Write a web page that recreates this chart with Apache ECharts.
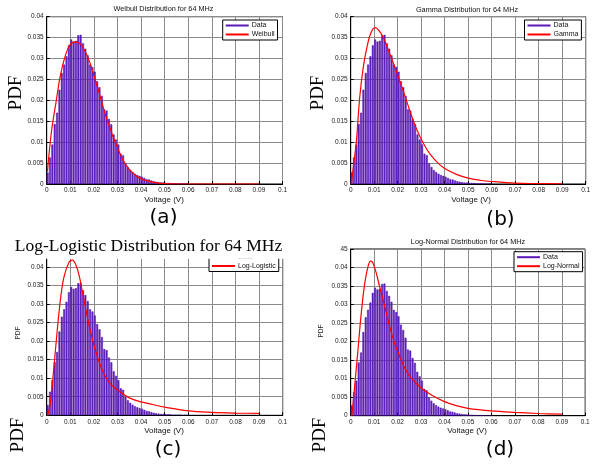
<!DOCTYPE html>
<html>
<head>
<meta charset="utf-8">
<script src="https://cdn.jsdelivr.net/npm/echarts@6.0.0/dist/echarts.min.js"></script>
<style>
html,body{margin:0;padding:0;background:#fff;}
#chart{width:600px;height:467px;}
</style>
</head>
<body>
<div id="chart"></div>
<script>
// ---------- data ----------
const binWidth = 0.001;
const histValues = [
  0.0027, 0.0063, 0.0094, 0.0143, 0.0170, 0.0225, 0.0265, 0.0285, 0.0305, 0.0331,
  0.0345, 0.0340, 0.0342, 0.0355, 0.0356, 0.0336, 0.0323, 0.0307, 0.0285, 0.0279,
  0.0268, 0.0245, 0.0231, 0.0210, 0.0178, 0.0175, 0.0155, 0.0142, 0.0118, 0.0106,
  0.0094, 0.0072, 0.0068, 0.0049, 0.0040, 0.0033, 0.0028, 0.0024, 0.0021, 0.0019,
  0.0017, 0.0014, 0.0011, 0.0010, 0.0008, 0.0006, 0.0005, 0.0004, 0.0003, 0.0003,
  0.0002, 0.0002, 0.0002, 0.0001, 0.0001, 0.0001, 0.0001, 0.00005, 0.00005, 0.00005
];

const weibullX = [0.0003, 0.0021, 0.0040, 0.0057, 0.0078, 0.0099, 0.0121, 0.0142, 0.0163, 0.0184,
  0.0206, 0.0227, 0.0248, 0.0270, 0.0291, 0.0312, 0.0333, 0.0355, 0.0383, 0.0411, 0.0454, 0.05, 0.06, 0.07, 0.08, 0.09];
const weibullY = [0.0030, 0.0129, 0.0197, 0.0257, 0.0305, 0.0333, 0.0340, 0.0335, 0.0317, 0.0289,
  0.0249, 0.0209, 0.0167, 0.0131, 0.0099, 0.0071, 0.0048, 0.0032, 0.0018, 0.0010, 0.0004, 0.0001, 0, 0, 0, 0];

const gammaX = [0.0003, 0.0010, 0.0024, 0.0038, 0.0053, 0.0068, 0.0085, 0.0104, 0.0119, 0.0141,
  0.0163, 0.0185, 0.0207, 0.0230, 0.0251, 0.0274, 0.0296, 0.0325, 0.035, 0.0375, 0.04, 0.045, 0.05, 0.055, 0.06, 0.07, 0.08, 0.09];
const gammaY = [0, 0.0035, 0.0101, 0.0205, 0.0277, 0.0324, 0.0360, 0.0374, 0.0368, 0.0348,
  0.0316, 0.0284, 0.0249, 0.0212, 0.0176, 0.0140, 0.0112, 0.0082, 0.0063, 0.0048, 0.0037, 0.0023, 0.0014, 0.0009, 0.0006, 0.0002, 0.0001, 0.00003];

const logLogisticX = [0.0004, 0.0015, 0.0031, 0.0045, 0.0060, 0.0074, 0.0095, 0.0109, 0.0123, 0.0138,
  0.0152, 0.0166, 0.0180, 0.0201, 0.0223, 0.0244, 0.0272, 0.03, 0.035, 0.04, 0.045, 0.05, 0.06, 0.07, 0.08, 0.09];
const logLogisticY = [0, 0.0030, 0.0133, 0.0231, 0.0321, 0.0375, 0.0413, 0.0418, 0.0406, 0.0375,
  0.0330, 0.0285, 0.0240, 0.0187, 0.0142, 0.0110, 0.0083, 0.0068, 0.0047, 0.0036, 0.0029, 0.0022, 0.0012, 0.0008, 0.0006, 0.0005];

const logNormalX = [0.0005, 0.0017, 0.0031, 0.0045, 0.0060, 0.0074, 0.0085, 0.0095, 0.0109, 0.0123,
  0.0138, 0.0152, 0.0166, 0.0187, 0.0209, 0.0230, 0.0258, 0.03, 0.035, 0.04, 0.045, 0.05, 0.06, 0.07, 0.08, 0.09];
const logNormalY = [0, 0.0080, 0.0178, 0.0277, 0.0358, 0.0403, 0.0417, 0.0412, 0.0385, 0.0349,
  0.0313, 0.0277, 0.0241, 0.0196, 0.0160, 0.0129, 0.0102, 0.0075, 0.0054, 0.0038, 0.0027, 0.0020, 0.0013, 0.0009, 0.0006, 0.0004];

const fitNames = ['Weibull', 'Gamma', 'Log-Logistic', 'Log-Normal'];
const panelTitles = ['Weibull Distribution for 64 MHz', 'Gamma Distribution for 64 MHz',
  'Log-Logistic Distribution for 64 MHz', 'Log-Normal Distribution for 64 MHz'];
const captions = ['(a)', '(b)', '(c)', '(d)'];
const xLabel = 'Voltage (V)';
const yLabel = 'PDF';
const yMaxes = [0.04, 0.04, 0.045, 0.045];

// ---------- layout ----------
const grids = [
  {left: 46.7, top: 16.7, width: 235.8, height: 167.3},
  {left: 350.7, top: 16.7, width: 235, height: 167.3},
  {left: 46.7, top: 248.2, width: 236, height: 167.1},
  {left: 350.7, top: 249, width: 234.5, height: 166.7}
];
const fitX = [weibullX, gammaX, logLogisticX, logNormalX];
const fitY = [weibullY, gammaY, logLogisticY, logNormalY];

const histData = histValues.map((v, i) => [i * binWidth, v]);
const BAR_FILL = '#6526c9';
const BAR_EDGE = '#48079f';

function renderBar(params, api) {
  const x0 = api.value(0), v = api.value(1);
  const p0 = api.coord([x0, 0]);
  const p1 = api.coord([x0 + binWidth, v]);
  const w = p1[0] - p0[0];
  return {
    type: 'rect',
    shape: {x: p0[0] + 0.2, y: p1[1], width: Math.max(w - 0.9, 0.5), height: p0[1] - p1[1]},
    style: {fill: BAR_FILL, stroke: BAR_EDGE, lineWidth: 0.45}
  };
}

const tickFont = {fontFamily: 'Liberation Sans', fontSize: 6.5, color: '#1a1a1a'};
const fmt = v => String(+v.toFixed(3));

const xAxes = grids.map((g, i) => ({
  type: 'value', gridIndex: i, min: 0, max: 0.1, interval: 0.01,
  axisLine: {show: true, onZero: false, lineStyle: {color: '#000', width: 1}},
  axisTick: {show: true, inside: true, length: 3, lineStyle: {color: '#000'}},
  splitLine: {show: true, lineStyle: {color: '#8a8a8a', width: 1}},
  axisLabel: Object.assign({margin: 3, formatter: fmt, hideOverlap: false, showMinLabel: true, showMaxLabel: true}, tickFont)
}));
const yAxes = grids.map((g, i) => ({
  type: 'value', gridIndex: i, min: 0, max: yMaxes[i], interval: 0.005,
  axisLine: {show: true, onZero: false, lineStyle: {color: '#000', width: 1}},
  axisTick: {show: true, inside: true, length: 3, lineStyle: {color: '#000'}},
  splitLine: {show: true, lineStyle: {color: '#8a8a8a', width: 1}},
  axisLabel: Object.assign({margin: 3, showMinLabel: true, showMaxLabel: true,
    formatter: v => (i === 3 && Math.abs(v - 0.045) < 1e-9) ? '45' : fmt(v)}, tickFont)
}));

const series = [];
grids.forEach((g, i) => {
  series.push({
    type: 'custom', name: 'Data', xAxisIndex: i, yAxisIndex: i,
    renderItem: renderBar, data: histData, clip: true,
    itemStyle: {color: '#5a18b8'}, silent: true, z: 2
  });
  series.push({
    type: 'line', name: fitNames[i], xAxisIndex: i, yAxisIndex: i,
    data: fitX[i].map((x, k) => [x, fitY[i][k]]),
    showSymbol: false, symbol: 'none', smooth: 0.35,
    lineStyle: {color: '#ff0000', width: 1.2}, itemStyle: {color: '#ff0000'}, z: 3, silent: true
  });
});

const legendPos = [
  {left: 222.7, top: 20},
  {left: 524.5, top: 20},
  {left: 209, top: 251.5},
  {left: 514, top: 251.7}
];
const legends = legendPos.map((p, i) => ({
  left: p.left, top: p.top, orient: 'vertical',
  backgroundColor: '#fff', borderColor: '#000', borderWidth: 1,
  padding: [2, 3, 2, 3], itemGap: 2, itemWidth: 23, itemHeight: 2,
  textStyle: {fontFamily: 'Liberation Sans', fontSize: 7, color: '#111', padding: [0, 0, 0, -2]},
  selectedMode: false,
  data: [
    {name: 'Data', icon: 'rect', itemStyle: {color: '#5a18b8'}},
    {name: fitNames[i], icon: 'rect', itemStyle: {color: '#ff0000'}}
  ]
}));

const serif = 'Liberation Serif';
const sans = 'Liberation Sans';
const capFont = 'DejaVu Sans';
function txt(text, x, y, font, fill, z) {
  return {type: 'text', style: {text: text, x: x, y: y, align: 'center', verticalAlign: 'middle', font: font, fill: fill}, z: z || 10};
}
function vtxt(text, x, y, font, fill) {
  return {type: 'text', x: x, y: y, rotation: Math.PI / 2, style: {text: text, x: 0, y: 0, align: 'center', verticalAlign: 'middle', font: font, fill: fill}, z: 10};
}
const graphic = [
  txt(panelTitles[0], 163.5, 9, '7.3px ' + sans, '#111'),
  txt(panelTitles[1], 467, 9.5, '7.3px ' + sans, '#111'),
  txt(panelTitles[3], 468, 241.5, '7.3px ' + sans, '#111'),
  {type: 'rect', shape: {x: 0, y: 233, width: 300, height: 25.7}, style: {fill: '#fff'}, z: 100},
  txt(panelTitles[2], 148.5, 246.5, '17.5px ' + serif, '#000', 101),
  txt(xLabel, 164, 200, '8px ' + sans, '#111'),
  txt(xLabel, 471, 200, '8px ' + sans, '#111'),
  txt(xLabel, 164, 431, '8px ' + sans, '#111'),
  txt(xLabel, 467, 430.5, '8px ' + sans, '#111'),
  vtxt(yLabel, 16, 93, '19px ' + serif, '#000'),
  vtxt(yLabel, 318.5, 93, '19px ' + serif, '#000'),
  vtxt(yLabel, 18, 435, '19px ' + serif, '#000'),
  vtxt(yLabel, 320, 435, '19px ' + serif, '#000'),
  vtxt(yLabel, 18.5, 333, '6.5px ' + sans, '#222'),
  vtxt(yLabel, 321.5, 331, '6.5px ' + sans, '#222'),
  txt(captions[0], 163.5, 218, '20px ' + capFont, '#000'),
  txt(captions[1], 500.5, 220, '20px ' + capFont, '#000'),
  txt(captions[2], 168, 449.5, '20px ' + capFont, '#000'),
  txt(captions[3], 500, 449.5, '20px ' + capFont, '#000')
];

const chart = echarts.init(document.getElementById('chart'), null, {renderer: 'canvas'});
chart.setOption({
  animation: false,
  backgroundColor: '#fff',
  grid: grids.map(g => Object.assign({show: true, borderColor: '#000', borderWidth: 1, backgroundColor: 'transparent', containLabel: false}, g)),
  xAxis: xAxes,
  yAxis: yAxes,
  legend: legends,
  series: series,
  graphic: {elements: graphic}
});
</script>
</body>
</html>
